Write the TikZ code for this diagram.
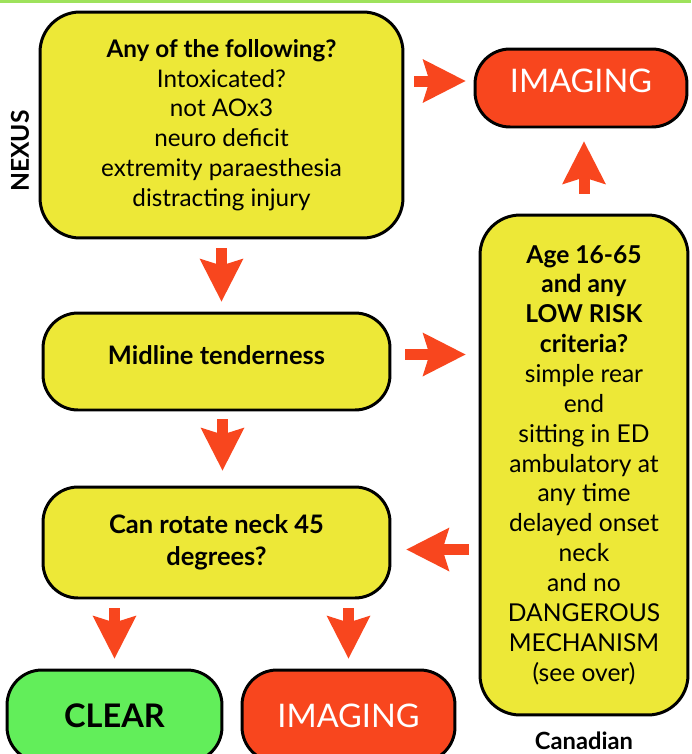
\documentclass[tikz,border=0pt]{standalone}
\usepackage{fontspec}
\setmainfont{Lato}
\usepackage{tikz}
\usetikzlibrary{positioning,calc,arrows.meta}
\definecolor{boxyellow}{RGB}{237,232,55}
\definecolor{boxred}{RGB}{248,70,30}
\definecolor{boxgreen}{RGB}{98,238,90}
\definecolor{barlime}{RGB}{158,226,92}

\begin{document}
\begin{tikzpicture}[x=0.02cm,y=-0.02cm,
  box/.style={rectangle,draw=black,line width=1.7pt,rounded corners=0.7cm,align=center,inner sep=0pt},
  yelbox/.style={box,fill=boxyellow,font=\fontsize{13.8}{16.9}\selectfont},
  redbox/.style={box,fill=boxred,text=white,font=\fontsize{18.5}{20}\selectfont},
  greenbox/.style={box,fill=boxgreen,font=\bfseries\fontsize{18.5}{20}\selectfont},
  flow/.style={draw=boxred,line width=0.22cm,line cap=butt,-{Stealth[length=0.86cm,width=0.88cm,inset=0.14cm,line width=0pt]}}]
\useasboundingbox (0,0) rectangle (691,754);
\clip (0,0) rectangle (691,754);
\fill[barlime] (0,0) rectangle (691,3);

\node[yelbox,rounded corners=0.8cm,minimum width=7.26cm,minimum height=4.52cm] (nexus) at (221.5,125) {\textbf{Any of the following?}\\Intoxicated?\\not AOx3\\neuro deficit\\extremity paraesthesia\\distracting injury};
\node[redbox,minimum width=4.24cm,minimum height=1.56cm,text depth=0.28cm] (imgtop) at (581,88) {IMAGING};
\node[yelbox,font=\bfseries\fontsize{14.5}{16.9}\selectfont,minimum width=6.94cm,minimum height=1.94cm,text depth=0.24cm] (midline) at (216.5,361.5) {Midline tenderness};
\node[yelbox,font=\fontsize{14}{17}\selectfont,rounded corners=0.8cm,minimum width=4.16cm,minimum height=10cm] (canadian) at (584,465) {\textbf{Age 16-65}\\\textbf{and any}\\\textbf{LOW RISK}\\\textbf{criteria?}\\simple rear\\end\\sitting in ED\\ambulatory at\\any time\\delayed onset\\neck\\and no\\DANGEROUS\\MECHANISM\\(see over)};
\node[yelbox,font=\bfseries\fontsize{14.5}{18}\selectfont,minimum width=6.94cm,minimum height=2.22cm] (rotate) at (216.5,542.5) {Can rotate neck 45\\degrees?};
\node[greenbox,minimum width=4.3cm,minimum height=1.84cm] (clear) at (114.5,716) {CLEAR};
\node[redbox,minimum width=4.26cm,minimum height=1.84cm] (imgbot) at (348.5,716) {IMAGING};

\node[font=\bfseries\fontsize{14}{15}\selectfont,rotate=90,inner sep=0pt] (nexuslbl) at (20,151) {NEXUS};
\node[font=\bfseries\fontsize{13.5}{14}\selectfont,below=0.3cm of canadian,inner sep=0pt] (canlbl) {Canadian};

\draw[flow,shorten <=0.2cm,shorten >=0.16cm] ($(nexus.east |- imgtop.west)+(0,-7)$) -- ($(imgtop.west)+(0,-7)$);
\draw[flow,shorten <=0.4cm,shorten >=0.26cm] (canadian.north) -- (canadian.north |- imgtop.south);
\draw[flow,shorten <=0.18cm,shorten >=0.2cm] (nexus.south) -- (nexus.south |- midline.north);
\draw[flow,shorten <=0.28cm,shorten >=0.26cm] ($(midline.east)+(0,-7)$) -- ($(canadian.west |- midline.east)+(0,-7)$);
\draw[flow,shorten <=0.16cm,shorten >=0.3cm] ($(midline.south)+(6,0)$) -- ($(midline.south |- rotate.north)+(6,0)$);
\draw[flow,shorten <=0.2cm,shorten >=0.3cm] ($(canadian.west |- rotate.east)+(0,7)$) -- ($(rotate.east)+(0,7)$);
\draw[flow,shorten <=0.18cm,shorten >=0.2cm] (rotate.south -| clear.north) -- (clear.north);
\draw[flow,shorten <=0.18cm,shorten >=0.2cm] (rotate.south -| imgbot.north) -- (imgbot.north);
\end{tikzpicture}
\end{document}
